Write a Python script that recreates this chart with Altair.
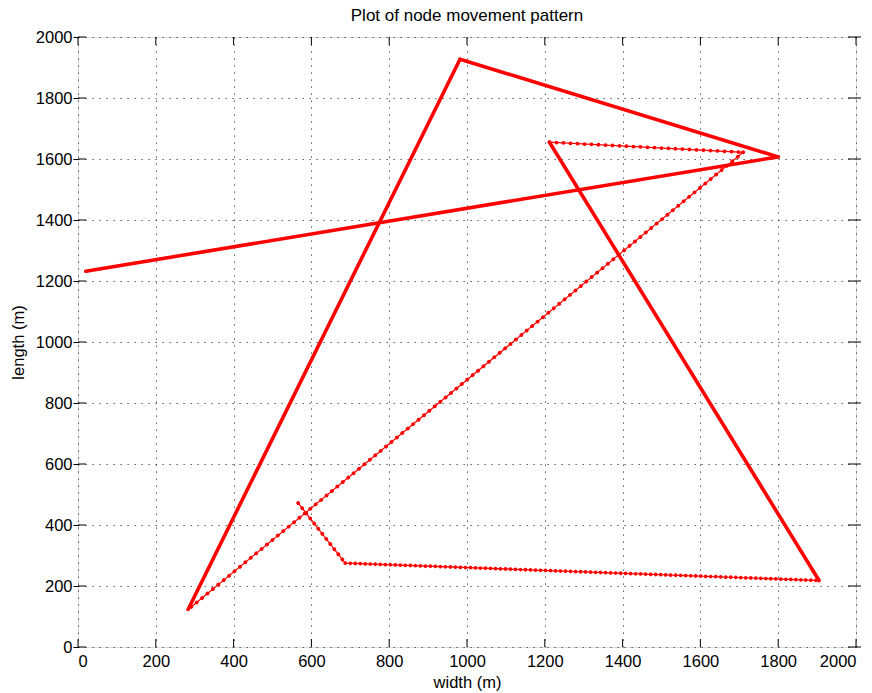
import altair as alt
import pandas as pd

# Waypoints of the node's path (metres)
xs = [566, 687, 1905, 1212, 1710, 283, 982, 1800, 20]
ys = [472, 275, 218, 1655, 1622, 123, 1927, 1607, 1232]
# Drawing style of each leg between consecutive waypoints
leg_style = ["bead6", "bead5", "solid", "bead7", "bead7", "solid", "solid", "solid"]

tick_vals = list(range(0, 2001, 200))

rows = []
for i, st in enumerate(leg_style):
    for k, j in enumerate((i, i + 1)):
        rows.append({"leg": i, "o": k, "x": xs[j], "y": ys[j], "style": st})
legs = pd.DataFrame(rows)
path = pd.DataFrame({"x": xs, "y": ys, "o": range(len(xs))})
ticks = pd.DataFrame({"v": tick_vals})

W, H = 778, 610
RED = "#ff0000"
FONT = "Liberation Sans"

xscale = alt.Scale(domain=[0, 2000], nice=False, zero=False)
yscale = alt.Scale(domain=[0, 2000], nice=False, zero=False)

common_axis = dict(grid=True, gridColor="#333333", gridDash=[1.2, 5.8], gridWidth=1,
                   domain=False, tickColor="black", tickWidth=1,
                   labelFont=FONT, labelFontSize=16.5, labelColor="black",
                   titleFont=FONT, titleFontSize=16.5, titleColor="black",
                   titleFontWeight="normal", values=tick_vals, format="d")

base_line = alt.Chart(path).mark_line(color=RED, strokeWidth=1.2).encode(
    x=alt.X("x:Q", scale=xscale, title="width (m)",
            axis=alt.Axis(**common_axis, ticks=False, labelPadding=6, titlePadding=5)),
    y=alt.Y("y:Q", scale=yscale, title="length (m)",
            axis=alt.Axis(**common_axis, ticks=True, tickSize=5, labelPadding=1,
                          titlePadding=9)),
    order="o:O",
)


def leg_layer(style, **mark):
    return alt.Chart(legs).transform_filter(alt.datum.style == style).mark_line(
        color=RED, **mark
    ).encode(
        x=alt.X("x:Q", scale=xscale),
        y=alt.Y("y:Q", scale=yscale),
        detail="leg:N",
        order="o:O",
    )


solid = leg_layer("solid", strokeWidth=3.6, strokeCap="round", strokeJoin="round")
bead5 = leg_layer("bead5", strokeWidth=3.8, strokeCap="round", strokeDash=[0.01, 5])
bead6 = leg_layer("bead6", strokeWidth=3.8, strokeCap="round", strokeDash=[0.01, 6.5])
bead7 = leg_layer("bead7", strokeWidth=3.8, strokeCap="round", strokeDash=[0.01, 7])

# inward tick marks on all four sides of the box, short outward stubs on the right
tick_len = 8
bottom_ticks = alt.Chart(ticks).mark_rule(color="black", strokeWidth=1).encode(
    x=alt.X("v:Q", scale=xscale), y=alt.value(H), y2=alt.value(H - tick_len))
top_ticks = alt.Chart(ticks).mark_rule(color="black", strokeWidth=1).encode(
    x=alt.X("v:Q", scale=xscale), y=alt.value(0), y2=alt.value(tick_len))
left_ticks = alt.Chart(ticks).mark_rule(color="black", strokeWidth=1).encode(
    y=alt.Y("v:Q", scale=yscale), x=alt.value(0), x2=alt.value(tick_len))
right_ticks = alt.Chart(ticks).mark_rule(color="black", strokeWidth=1).encode(
    y=alt.Y("v:Q", scale=yscale), x=alt.value(W + 5), x2=alt.value(W - tick_len))

chart = alt.layer(
    base_line, bead5, bead6, bead7, solid,
    bottom_ticks, top_ticks, left_ticks, right_ticks,
).properties(
    width=W, height=H,
    title=alt.TitleParams("Plot of node movement pattern", font=FONT, fontSize=17,
                          fontWeight="normal", color="black", offset=4),
    autosize=alt.AutoSizeParams(type="none"),
    padding={"left": 78, "top": 37, "right": 16, "bottom": 46},
).configure_view(
    stroke="black", strokeWidth=1.6
).configure(background="white")

chart.save("out.html", embed_options={"renderer": "svg", "actions": False})
